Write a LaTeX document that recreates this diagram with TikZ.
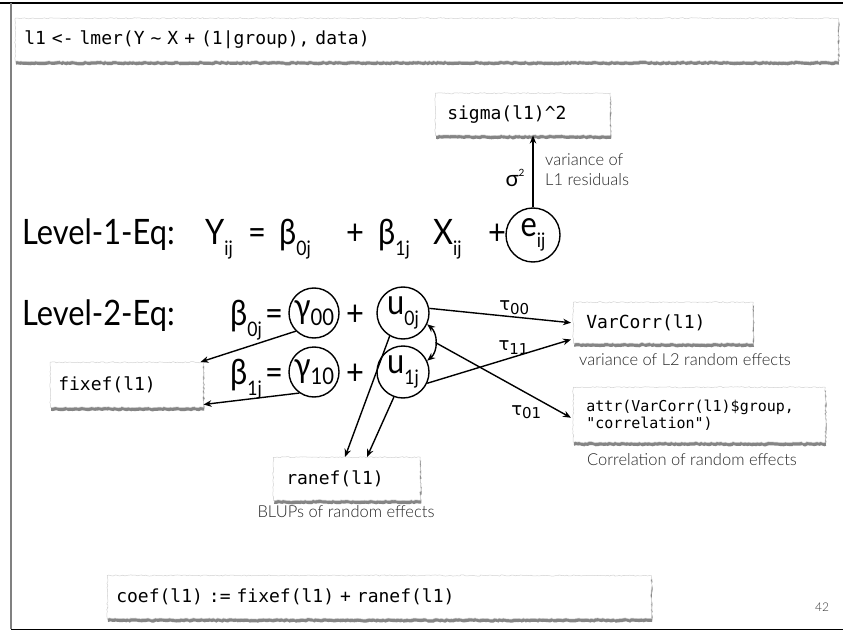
\documentclass[tikz,border=0pt]{standalone}
\usepackage{fontspec}
\setmainfont{Lato}
\newfontfamily\eqfont{Lato}[FakeStretch=0.88]
\newfontfamily\lightfont{Lato-Light.ttf}
\newfontfamily\codefont{DejaVu Sans Mono}
\newfontfamily\taufont{DejaVu Sans}
\usetikzlibrary{arrows.meta,decorations.pathmorphing,shadows}

% lowered subscript inside the large equations
\newcommand\sbs[1]{\raisebox{-0.32em}{\fontsize{20}{20}\selectfont #1}}
% tau labels with their index digits
\newcommand\taulbl[1]{τ\raisebox{-0.2em}{\fontsize{15}{15}\selectfont #1}}

\tikzset{
  paper/.style={fill=white, draw=gray!35, line width=0.5pt,
    decorate, decoration={random steps,segment length=2pt,amplitude=0.6pt},
    drop shadow={shadow xshift=0.8pt,shadow yshift=-3.5pt,fill=black!60,opacity=0.8},
    font=\codefont\fontsize{18}{21}\selectfont},
  circ/.style={circle, draw, line width=1.4pt, minimum size=50pt, inner sep=0pt,
    font=\eqfont\fontsize{35}{35}\selectfont},
  eqtxt/.style={font=\eqfont\fontsize{35}{35}\selectfont, inner sep=0pt, anchor=base west},
  note/.style={font=\lightfont\fontsize{16.5}{20}\selectfont, text=black!85, inner sep=0pt},
  tau/.style={font=\taufont\fontsize{18}{18}\selectfont, inner sep=2pt},
  arr/.style={-{Stealth[length=8pt,width=6.5pt]}, line width=1.4pt},
  arrboth/.style={{Stealth[length=8pt,width=6.5pt]}-{Stealth[length=8pt,width=6.5pt]}, line width=1.4pt}
}

\begin{document}
\begin{tikzpicture}[x=1pt,y=-1pt]
\useasboundingbox (0,0) rectangle (843,631);

% slide frame
\draw[line width=1.3pt] (0,3) -- (843,3);
\draw[gray, line width=1.8pt] (11,3) -- (11,629);
\draw[line width=1.3pt] (11,629.5) -- (843,629.5);

% model call
\node[paper, anchor=north west, minimum height=43pt, text width=805pt, inner xsep=9pt,
  align=left] (lmer) at (15,18)
  {l1 <- lmer(Y \textasciitilde{} X + (1|group), data)};

% level 1 equation
\node[eqtxt] (lev1) at (22,244) {Level-1-Eq:};
\node[eqtxt] (y) at (205,244) {Y\sbs{ij}};
\node[eqtxt] (eqa) at (248,244) {=};
\node[eqtxt] (b0) at (279,244) {β\sbs{0j}};
\node[eqtxt] (pa) at (346,244) {+};
\node[eqtxt] (b1) at (378,244) {β\sbs{1j}};
\node[eqtxt] (x) at (433,244) {X\sbs{ij}};
\node[eqtxt] (pb) at (488,244) {+};
\node[circ, minimum size=54pt] (e) at (533,235) {e\sbs{ij}};

% residual variance
\node[paper, anchor=north west, minimum height=42pt, text width=151pt, inner xsep=12pt,
  align=left] (sig) at (435,93) {sigma(l1)\textasciicircum2};
\draw[arr] (e.north) -- (e.north |- sig.south);
\node[font=\fontsize{22}{22}\selectfont, inner sep=0pt] (sg) at (515,178)
  {σ\raisebox{0.45em}{\fontsize{10}{10}\selectfont 2}};
\node[note, anchor=north west, align=left] (resnote) at (545,153) {variance of\\L1 residuals};

% level 2 equations
\node[eqtxt] (lev2) at (22,325) {Level-2-Eq:};
\node[eqtxt] (b0r) at (230,325) {β\sbs{0j}};
\node[eqtxt] (eqb) at (265,325) {=};
\node[circ] (g00) at (314,313) {γ\raisebox{-0.2em}{\fontsize{23}{23}\selectfont 00}};
\node[eqtxt] (pc) at (346,325) {+};
\node[circ, minimum size=52pt] (u0) at (403,313) {u\sbs{0j}};

\node[eqtxt] (b1r) at (230,384) {β\sbs{1j}};
\node[eqtxt] (eqc) at (265,384) {=};
\node[circ] (g10) at (314,372) {γ\raisebox{-0.2em}{\fontsize{23}{23}\selectfont 10}};
\node[eqtxt] (pd) at (346,384) {+};
\node[circ, minimum size=52pt] (u1) at (403,372) {u\sbs{1j}};

% extractor functions
\node[paper, anchor=north west, minimum height=45pt, text width=137pt, inner xsep=8pt,
  align=left] (fix) at (50,362) {fixef(l1)};

\node[paper, anchor=north west, minimum height=41pt, text width=154pt, inner xsep=13pt,
  align=left] (vc) at (573,302) {VarCorr(l1)};
\node[note] (vcnote) at (685,360) {variance of L2 random effects};

\node[paper, anchor=north west, minimum height=55pt, text width=226pt, inner xsep=13pt,
  align=left, font=\codefont\fontsize{15}{17}\selectfont] (attr) at (573,387)
  {attr(VarCorr(l1)\$group,\\"correlation")};
\node[note] (attrnote) at (692,460) {Correlation of random effects};

\node[paper, anchor=north west, minimum height=43pt, text width=121pt, inner xsep=13pt,
  align=left] (ran) at (273,457) {ranef(l1)};
\node[note] (rannote) at (346,512) {BLUPs of random effects};

\node[paper, anchor=west, minimum height=43pt, text width=526pt, inner xsep=9pt,
  align=left] (coef) at (107,597)
  {coef(l1) := fixef(l1) + ranef(l1)};

\node[font=\lightfont\fontsize{12}{12}\selectfont, text=black!80] (pg) at (822,607) {42};

% connectors
\draw[arr] (g00.225) -- ([xshift=-3pt]fix.north east);
\draw[arr] (g10.235) -- ([yshift=3pt]fix.south east);

\draw[arr] (u0.10) -- node[tau, above, pos=0.6] {\taulbl{00}} ([xshift=-2pt]vc.west);
\draw[arr] (u1.-25) -- node[tau, above, pos=0.6] {\taulbl{11}} ([xshift=-2pt,yshift=4pt]vc.south west);
\draw[arrboth] (u1.25) to[bend right=50] coordinate[pos=0.5] (cov) (u0.-25);
\draw[arr] (cov) -- node[tau, below left, pos=0.8] {\taulbl{01}} ([xshift=-2pt,yshift=-3pt]attr.west);

\draw[arr] (u0.240) -- ([xshift=72pt]ran.north west);
\draw[arr] (u1.250) -- ([xshift=94pt]ran.north west);
\end{tikzpicture}
\end{document}
